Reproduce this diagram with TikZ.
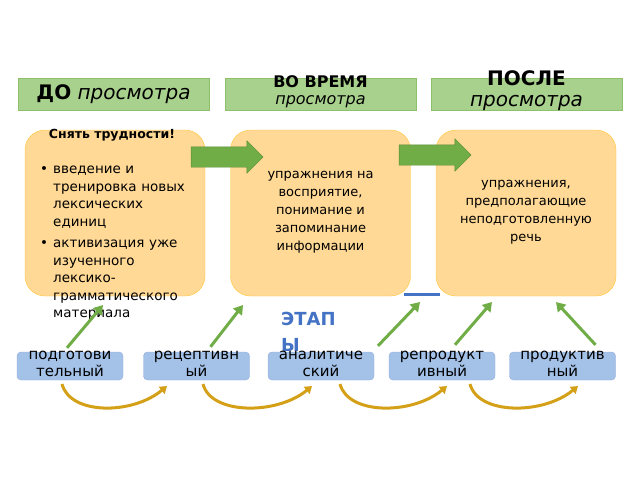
\documentclass[tikz,border=0pt]{standalone}
\usepackage{fontspec}
\setmainfont{DejaVu Sans}
\usetikzlibrary{arrows.meta,shapes.arrows}
\definecolor{hdrfill}{HTML}{A9D18E}
\definecolor{hdrline}{HTML}{8CC06A}
\definecolor{boxfill}{HTML}{FFD995}
\definecolor{boxline}{HTML}{FFC638}
\definecolor{stfill}{HTML}{A4C2E8}
\definecolor{stline}{HTML}{8FAADC}
\definecolor{upgreen}{HTML}{70AD47}
\definecolor{gold}{HTML}{D4A017}
\definecolor{etap}{HTML}{4472C4}
\tikzset{
  hdr/.style={draw=hdrline,fill=hdrfill,minimum width=191pt,minimum height=32pt,inner sep=0pt,align=center},
  stage/.style={draw=boxline,fill=boxfill,rounded corners=20pt,minimum width=180pt,minimum height=166pt,inner sep=0pt},
  phase/.style={draw=stline,fill=stfill,rounded corners=4pt,minimum width=106pt,minimum height=28pt,inner sep=0pt},
  phasetext/.style={font=\fontsize{15}{17}\selectfont,align=center,anchor=north},
  up/.style={upgreen,line width=3pt,-{Triangle[length=9pt,width=11pt]}},
  next/.style={gold,line width=3pt,-{Triangle[length=7pt,width=9pt]}},
  bigarrow/.style={single arrow,draw=upgreen!80!black,fill=upgreen,minimum height=72pt,inner xsep=0pt,inner ysep=10pt,single arrow head extend=6pt}
}
\begin{document}
\begin{tikzpicture}[x=1pt,y=-1pt]
  \useasboundingbox (0,0) rectangle (640,480);
  % headers
  \node[hdr] (H0) at (113.5,94) {\fontsize{20}{22}\selectfont\textbf{ДО} \textit{просмотра}};
  \node[hdr] (H1) at (320.5,94) {};
  \node[font=\fontsize{16}{17}\selectfont,align=center] (H1t) at (320.5,92) {\textbf{ВО ВРЕМЯ}\\\textit{просмотра}};
  \node[hdr] (H2) at (526.5,94) {};
  \node[font=\fontsize{20}{21}\selectfont,align=center] (H2t) at (526.5,91) {\textbf{ПОСЛЕ}\\\textit{просмотра}};
  % stages
  \node[stage] (S0) at (115,213) {};
  \node[stage] (S1) at (320.5,213) {};
  \node[stage] (S2) at (526,213) {};
  \node[font=\fontsize{12.5}{13}\selectfont\bfseries] (T0) at (112,135) {Снять трудности!};
  \node[anchor=north west,text width=168pt,font=\fontsize{13.5}{17.5}\selectfont,inner sep=0pt] (L0) at (28,148)
    {\begin{itemize}\setlength{\leftmargini}{28pt}\setlength{\itemsep}{0pt}\setlength{\parsep}{0pt}\setlength{\topsep}{0pt}
     \item введение и тренировка новых лексических единиц
     \item активизация уже изученного лексико-грамматического материала\end{itemize}};
  \node[font=\fontsize{13}{18}\selectfont,align=center] (L1) at (320.5,212) {упражнения на\\восприятие,\\понимание и\\запоминание\\информации};
  \node[font=\fontsize{13}{18}\selectfont,align=center] (L2) at (526,212) {упражнения,\\предполагающие\\неподготовленную\\речь};
  \node[bigarrow] (A0) at (222,157) {};
  \node[bigarrow] (A1) at (430,155) {};
  \draw[etap,line width=3pt] (404,294) -- (440,294);
  \node[etap,font=\fontsize{18}{26}\selectfont\bfseries,align=left,anchor=north west,inner sep=0pt] (E) at (281,312) {ЭТАП\\Ы};
  % phases
  \foreach \i/\x/\a/\b in {0/70/подготови/тельный,1/196.5/рецептивн/ый,2/321/аналитиче/ский,3/442/репродукт/ивный,4/562.5/продуктив/ный}{
    \node[phase] (P\i) at (\x,366) {};
    \node[phasetext] at (\x,348) {\a\\\b};
  }
  \draw[up] (P0.north) ++(-3,-4) -- (103,305);
  \draw[up] (P1.north) ++(14,-5) -- (243,305);
  \draw[up] (P2.north) ++(57,-6) -- (420,302);
  \draw[up] (P3.north) ++(13,-7) -- (492,302);
  \draw[up] (P4.north) ++(33,-7) -- (556,302);
  \foreach \s/\e in {62/167,203/312,340/447,470/578}{
    \draw[next] (\s,384) .. controls (\s+8,415) and (\e-35,415) .. (\e,386);
  }
\end{tikzpicture}
\end{document}
